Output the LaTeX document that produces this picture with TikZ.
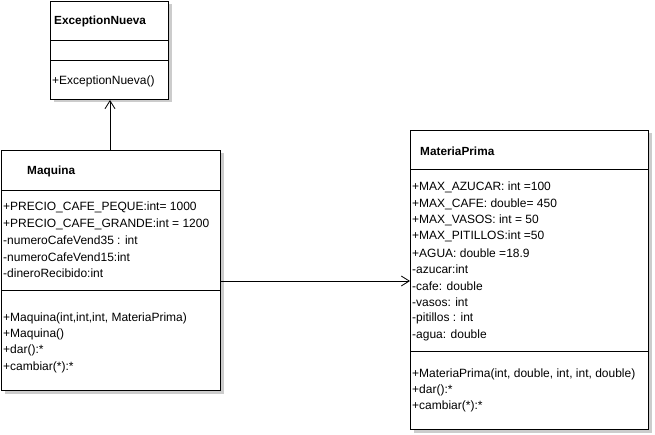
\documentclass[tikz,border=0pt]{standalone}
\usepackage{fontspec}
\setmainfont{Liberation Sans}
\usetikzlibrary{arrows.meta,shadows}
\begin{document}
\begin{tikzpicture}[x=1pt,y=-1pt,
  umlbox/.style={draw=black,line width=1pt,fill=white,anchor=north west,inner sep=0pt,
    drop shadow={shadow xshift=3pt,shadow yshift=-3pt,fill=black!20,opacity=1}},
  sep/.style={draw=black,line width=1pt},
  title/.style={anchor=west,inner sep=0pt,font=\fontsize{11.8}{13}\selectfont\bfseries},
  txt/.style={anchor=west,inner sep=0pt,font=\fontsize{12}{14}\selectfont},
  assoc/.style={draw=black,line width=0.8pt,-{Straight Barb[length=8pt,width=10pt,line width=0.8pt]}}
]
\useasboundingbox (0,0) rectangle (655,435);
\fill[white] (0,0) rectangle (655,435);

% ExceptionNueva
\node[umlbox,minimum width=118pt,minimum height=98pt] (exc) at (50,1) {};
\draw[sep] (exc.west |- 0,40.5) coordinate (e1) -- (exc.east |- e1);
\draw[sep] (exc.west |- 0,60.5) coordinate (e2) -- (exc.east |- e2);
\node[title] (excT) at (54,21) {ExceptionNueva};
\node[txt] (excM1) at (52,81) {+ExceptionNueva()};

% Maquina
\node[umlbox,minimum width=219pt,minimum height=240pt] (maq) at (1,150) {};
\draw[sep] (maq.west |- 0,190.5) coordinate (m1) -- (maq.east |- m1);
\draw[sep] (maq.west |- 0,290.5) coordinate (m2) -- (maq.east |- m2);
\node[title] (maqT) at (27,171) {Maquina};
\node[txt] (maqA1) at (3,207.7) {+PRECIO\_CAFE\_PEQUE:int= 1000};
\node[txt] (maqA2) at (3,224.1) {+PRECIO\_CAFE\_GRANDE:int = 1200};
\node[txt] (maqA3) at (3,240.5) {-numeroCafeVend35 : int};
\node[txt] (maqA4) at (3,256.9) {-numeroCafeVend15:int};
\node[txt] (maqA5) at (3,273.3) {-dineroRecibido:int};
\node[txt] (maqM1) at (3,318) {+Maquina(int,int,int, MateriaPrima)};
\node[txt] (maqM2) at (3,334.4) {+Maquina()};
\node[txt] (maqM3) at (3,350.8) {+dar():*};
\node[txt] (maqM4) at (3,367.2) {+cambiar(*):*};

% MateriaPrima
\node[umlbox,minimum width=238pt,minimum height=299pt] (mat) at (410,130) {};
\draw[sep] (mat.west |- 0,169.5) coordinate (p1) -- (mat.east |- p1);
\draw[sep] (mat.west |- 0,351) coordinate (p2) -- (mat.east |- p2);
\node[title] (matT) at (420,151) {MateriaPrima};
\node[txt] (matA1) at (412,187.5) {+MAX\_AZUCAR: int =100};
\node[txt] (matA2) at (412,203.9) {+MAX\_CAFE: double= 450};
\node[txt] (matA3) at (412,220.3) {+MAX\_VASOS: int = 50};
\node[txt] (matA4) at (412,236.7) {+MAX\_PITILLOS:int =50};
\node[txt] (matA5) at (412,253.1) {+AGUA: double =18.9};
\node[txt] (matA6) at (412,269.5) {-azucar:int};
\node[txt] (matA7) at (412,285.9) {-cafe: double};
\node[txt] (matA8) at (412,302.3) {-vasos: int};
\node[txt] (matA9) at (412,318.7) {-pitillos : int};
\node[txt] (matA10) at (412,335.1) {-agua: double};
\node[txt] (matM1) at (412,374) {+MateriaPrima(int, double, int, int, double)};
\node[txt] (matM2) at (412,390.4) {+dar():*};
\node[txt] (matM3) at (412,406.8) {+cambiar(*):*};

% connectors
\draw[assoc] (maq.north -| 110,0) -- (exc.south -| 110,0);
\draw[assoc] (maq.east |- 0,281) -- (mat.west |- 0,281);
\end{tikzpicture}
\end{document}
